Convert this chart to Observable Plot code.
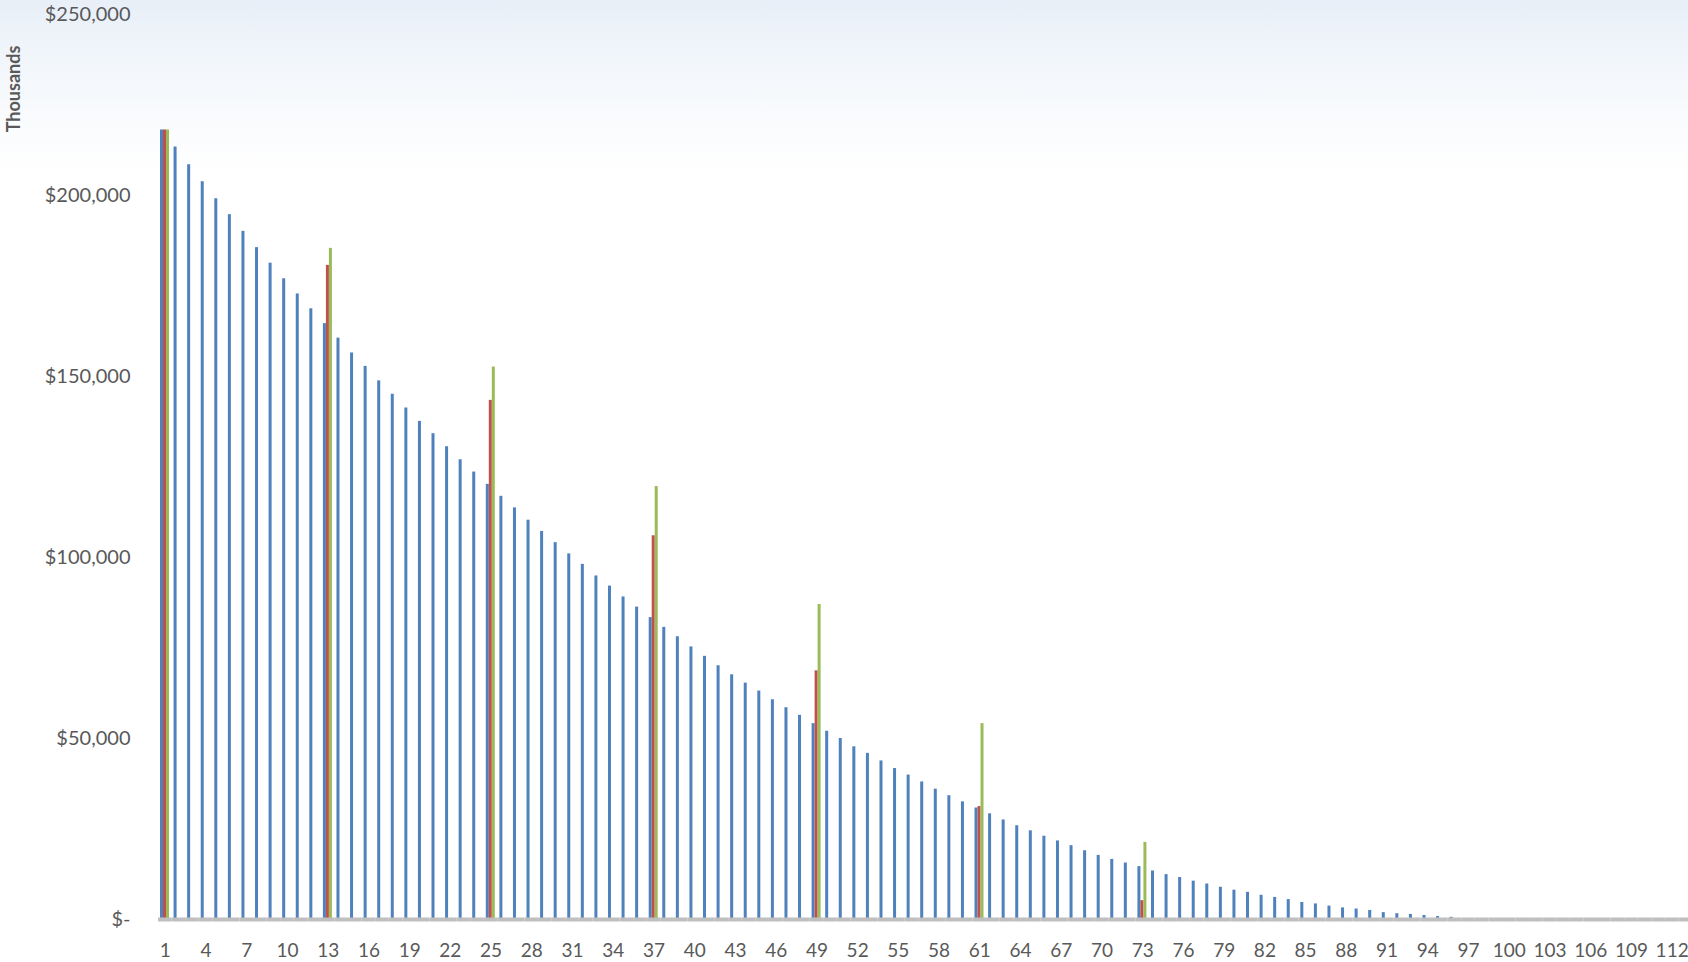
<!DOCTYPE html>
<html>
<head>
<meta charset="utf-8">
<script src="https://cdn.jsdelivr.net/npm/d3@7"></script>
<script src="https://cdn.jsdelivr.net/npm/@observablehq/plot@0.6"></script>
<style>
  html, body { margin: 0; padding: 0; }
  body {
    width: 1688px; height: 962px; overflow: hidden;
    background: linear-gradient(to bottom, #e8eff8 0px, #f3f7fb 70px, #fbfcfe 130px, #ffffff 175px);
  }
  #chart svg { display: block; background: transparent; }
</style>
</head>
<body>
<div id="chart"></div>
<script>
// Periods along the horizontal axis
const periods = d3.range(1, 114);
const tickLabels = [1, 4, 7, 10, 13, 16, 19, 22, 25, 28, 31, 34, 37, 40, 43, 46, 49, 52, 55, 58,
  61, 64, 67, 70, 73, 76, 79, 82, 85, 88, 91, 94, 97, 100, 103, 106, 109, 112];
const yTicks = [0, 50000, 100000, 150000, 200000, 250000];

// Series names and colours
const seriesNames = ["Series1", "Series2", "Series3"];
const seriesColors = ["#4f81bd", "#c0504d", "#9bbb59"];

// Series1: remaining balance for every period (shown in thousands)
const series1 = [
  218100, 213400, 208500, 203800, 199100, 194700, 190100, 185600, 181300, 177000,
  172800, 168700, 164600, 160600, 156500, 152800, 148800, 145100, 141300, 137600,
  134200, 130600, 127000, 123600, 120200, 116900, 113700, 110300, 107200, 104100,
  101000, 98100, 94900, 92100, 89100, 86300, 83400, 80700, 78100, 75300,
  72700, 70100, 67600, 65300, 63100, 60700, 58500, 56400, 54100, 52000,
  50000, 47700, 45900, 43800, 41700, 39900, 38000, 36000, 34200, 32500,
  30800, 29200, 27500, 25900, 24500, 23000, 21700, 20400, 19000, 17700,
  16600, 15600, 14600, 13400, 12400, 11600, 10600, 9800, 8900, 8100,
  7500, 6700, 6100, 5500, 4700, 4300, 3700, 3200, 2900, 2500,
  1900, 1600, 1400, 1100, 800, 600, 300, 0, 0, 0,
  0, 0, 0, 0, 0, 0, 0, 0, 0, 0,
  0, 0, 0
];

// Series2 and Series3: yearly checkpoints
const checkpointPeriods = [1, 13, 25, 37, 49, 61, 73];
const series2 = [218100, 180700, 143400, 106000, 68700, 31200, 5200];
const series3 = [218100, 185400, 152600, 119600, 87000, 54100, 21300];

const rows = [
  ...series1.map((v, i) => ({period: periods[i], series: "Series1", value: v})),
  ...checkpointPeriods.map((p, i) => ({period: p, series: "Series2", value: series2[i]})),
  ...checkpointPeriods.map((p, i) => ({period: p, series: "Series3", value: series3[i]}))
];

const tickSet = new Set(tickLabels);
const money = d3.format(",");

const chart = Plot.plot({
  width: 1688,
  height: 962,
  marginLeft: 158,
  marginRight: -4,
  marginTop: 14,
  marginBottom: 43,
  style: {
    background: "transparent",
    fontFamily: "Lato, 'Open Sans', sans-serif",
    fontSize: "20px",
    color: "#595959"
  },
  fx: {
    domain: periods,
    axis: "bottom",
    padding: 0,
    label: null,
    tickSize: 0,
    tickPadding: 24,
    tickFormat: d => tickSet.has(d) ? String(d) : ""
  },
  x: {domain: seriesNames, axis: null, paddingInner: 0, paddingOuter: 0.55},
  y: {
    domain: [0, 250000],
    ticks: yTicks,
    tickSize: 0,
    tickPadding: 28,
    label: null,
    tickFormat: d => d === 0 ? "$-" : "$" + money(d)
  },
  color: {domain: seriesNames, range: seriesColors},
  marks: [
    Plot.barY(rows, {fx: "period", x: "series", y: "value", fill: "series"}),
    Plot.ruleY([0], {stroke: "#bfbfbf", strokeWidth: 4})
  ]
});

document.getElementById("chart").appendChild(chart);

// Slightly narrower period labels so the last one fits at the right edge
d3.select(chart).selectAll("[aria-label='fx-axis'] text, [aria-label='fx-axis tick label'] text")
  .attr("font-size", 19);

// Vertical display-unit label on the left
d3.select(chart).append("text")
  .attr("transform", "translate(13,89) rotate(-90)")
  .attr("text-anchor", "middle")
  .attr("dominant-baseline", "central")
  .attr("font-family", "Lato, 'Open Sans', sans-serif")
  .attr("font-weight", "bold")
  .attr("font-size", 18)
  .attr("fill", "#595959")
  .text("Thousands");
</script>
</body>
</html>
